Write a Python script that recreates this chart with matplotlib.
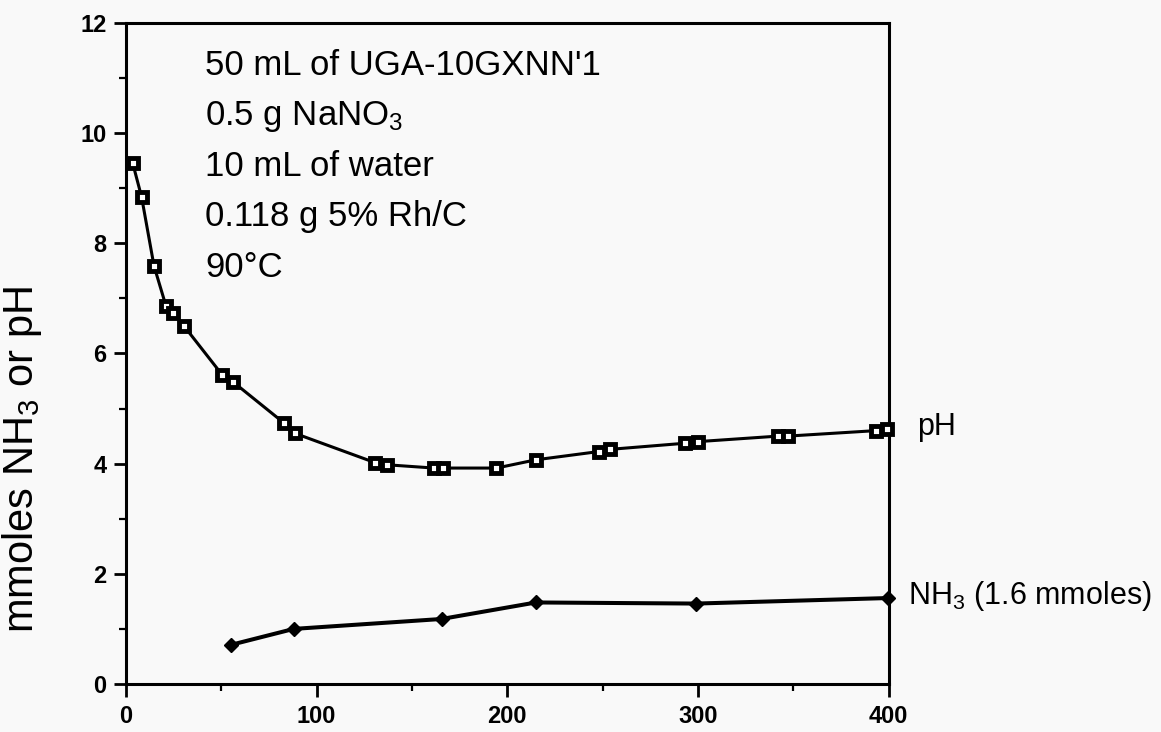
import matplotlib
matplotlib.use("Agg")
import matplotlib.pyplot as plt
from matplotlib.ticker import MultipleLocator

plt.rcParams['font.family'] = ['Liberation Sans', 'DejaVu Sans']
plt.rcParams['mathtext.default'] = 'regular'

# pH curve (time, pH)
ph_time = [3.5, 8.2, 14.7, 21, 24.8, 30.4, 50.5, 56.3, 82.8, 88.6,
           130.5, 136.7, 161.5, 166, 194.3, 215, 248, 254, 293, 300,
           342, 347, 393.5, 399]
ph_val = [9.46, 8.84, 7.59, 6.86, 6.73, 6.50, 5.61, 5.48, 4.74, 4.55,
          4.02, 3.98, 3.92, 3.92, 3.92, 4.07, 4.22, 4.26, 4.37, 4.40,
          4.50, 4.50, 4.60, 4.63]

# ammonia curve (time, mmoles)
nh3_time = [55, 88, 165.5, 215, 299, 399.5]
nh3_val = [0.71, 1.00, 1.18, 1.48, 1.46, 1.56]

conditions = ["50 mL of UGA-10GXNN'1", "0.5 g NaNO$_3$", "10 mL of water",
              "0.118 g 5% Rh/C", "90\u00b0C"]

bg = '#f9f9f9'
fig = plt.figure(figsize=(11.61, 7.32), dpi=100, facecolor=bg)
ax = fig.add_axes([0.1085, 0.0656, 0.657, 0.903], facecolor=bg)

ax.plot(ph_time, ph_val, color='black', lw=2.2, marker='s', ms=6.5,
        mfc='white', mec='black', mew=3.5, clip_on=False, zorder=3)
ax.plot(nh3_time, nh3_val, color='black', lw=2.9, marker='D', ms=7,
        mfc='black', mec='black', clip_on=False, zorder=3)

ax.set_xlim(0, 400)
ax.set_ylim(0, 12)
ax.xaxis.set_major_locator(MultipleLocator(100))
ax.xaxis.set_minor_locator(MultipleLocator(50))
ax.yaxis.set_major_locator(MultipleLocator(2))
ax.yaxis.set_minor_locator(MultipleLocator(1))
ax.tick_params(which='major', direction='out', length=9, width=2,
               labelsize=17)
ax.tick_params(axis='x', which='major', pad=6)
ax.tick_params(axis='y', which='major', pad=5)
ax.tick_params(which='minor', direction='out', length=5, width=1.6)
for lab in ax.get_xticklabels() + ax.get_yticklabels():
    lab.set_fontweight('bold')
for sp in ax.spines.values():
    sp.set_linewidth(2.2)

ax.set_ylabel("mmoles NH$_3$ or pH", fontsize=30)
ax.yaxis.set_label_coords(-0.108, 0.339)

for i, line in enumerate(conditions):
    ax.text(41.5, 11.06 - i * 0.918, line, fontsize=25, va='baseline', ha='left')

ax.text(415, 4.52, "pH", fontsize=22, va='baseline', ha='left', clip_on=False)
ax.text(410, 1.45, "NH$_3$ (1.6 mmoles)", fontsize=22, va='baseline',
        ha='left', clip_on=False)

fig.savefig("out.png", dpi=100, facecolor=bg)
